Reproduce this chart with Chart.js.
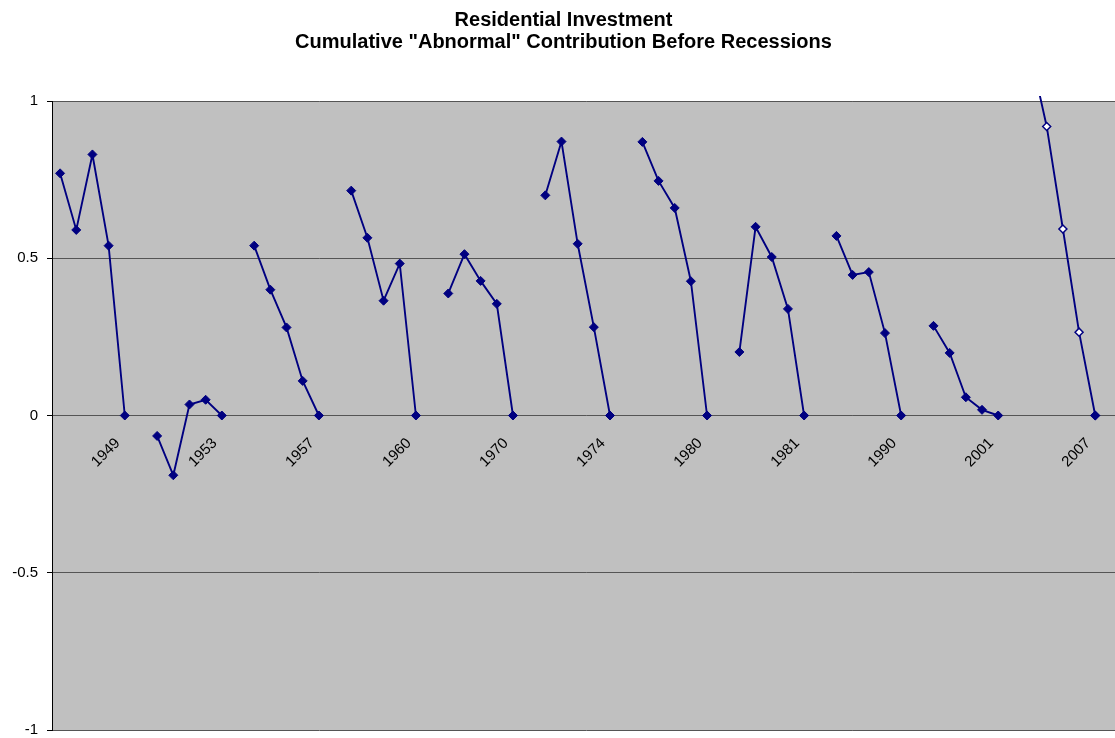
<!DOCTYPE html>
<html lang="en">
<head>
  <meta charset="UTF-8" />
  <title>Residential Investment</title>
  <style>
    html, body { margin: 0; padding: 0; overflow: hidden; background: #fff; }
    canvas { display: block; }
  </style>
</head>
<body>
  <canvas id="myChart" width="1125" height="738"></canvas>
  <script src="https://cdn.jsdelivr.net/npm/chart.js"></script>
  <script>
    // recessions (category labels) and the five quarters before each one
    const recessions = ['1949', '1953', '1957', '1960', '1970', '1974', '1980', '1981', '1990', '2001', '2007'];

    const y1949 = [0.77, 0.59, 0.83, 0.54, 0];
    const y1953 = [-0.065, -0.19, 0.035, 0.05, 0];
    const y1957 = [0.54, 0.40, 0.28, 0.11, 0];
    const y1960 = [0.715, 0.565, 0.365, 0.483, 0];
    const y1970 = [0.388, 0.513, 0.428, 0.355, 0];
    const y1974 = [0.70, 0.871, 0.546, 0.281, 0];
    const y1980 = [0.87, 0.746, 0.66, 0.427, 0];
    const y1981 = [0.202, 0.60, 0.504, 0.339, 0];
    const y1990 = [0.571, 0.447, 0.456, 0.262, 0];
    const y2001 = [0.285, 0.199, 0.058, 0.018, 0];
    const y2007Actual = [null, null, null, null, 0];
    const y2007Projected = [1.15, 0.919, 0.593, 0.265, 0];

    const yTicks = [-1, -0.5, 0, 0.5, 1];

    // flat category table: 5 points per recession, then an empty slot
    const actualGroups = [y1949, y1953, y1957, y1960, y1970, y1974, y1980, y1981, y1990, y2001, y2007Actual];
    const labels = [];
    const actual = [];
    const projected = [];
    actualGroups.forEach((g, i) => {
      g.forEach((v, k) => {
        labels.push(k === 4 ? recessions[i] : '');
        actual.push(v);
        projected.push(i === actualGroups.length - 1 ? y2007Projected[k] : null);
      });
      labels.push('');
      actual.push(null);
      projected.push(null);
    });

    const navy = '#000080';
    const font = 'Liberation Sans, Arial, sans-serif';

    const plotBg = {
      id: 'plotBg',
      beforeDraw(chart) {
        const { ctx, chartArea: a } = chart;
        ctx.save();
        ctx.fillStyle = '#C0C0C0';
        ctx.fillRect(a.left, a.top, a.right - a.left, a.bottom - a.top);
        ctx.restore();
      }
    };

    new Chart(document.getElementById('myChart'), {
      type: 'line',
      plugins: [plotBg],
      data: {
        labels: labels,
        datasets: [
          {
            label: 'Cumulative contribution',
            data: actual,
            borderColor: navy,
            borderWidth: 1.9,
            pointStyle: 'rectRot',
            pointRadius: 4.5,
            pointBackgroundColor: navy,
            pointBorderColor: navy,
            pointBorderWidth: 1,
            spanGaps: false,
            tension: 0
          },
          {
            label: 'Projected',
            data: projected,
            borderColor: navy,
            borderWidth: 1.9,
            pointStyle: 'rectRot',
            pointRadius: 4,
            pointBackgroundColor: '#ffffff',
            pointBorderColor: navy,
            pointBorderWidth: 1.5,
            spanGaps: false,
            tension: 0,
            clip: { left: 0, top: 5, right: 0, bottom: 0 }
          }
        ]
      },
      options: {
        responsive: false,
        animation: false,
        layout: { padding: { left: 2, right: 0, top: 0, bottom: 8 } },
        plugins: {
          legend: { display: false },
          tooltip: { enabled: false },
          title: {
            display: true,
            text: ['Residential Investment', 'Cumulative "Abnormal" Contribution Before Recessions'],
            color: '#000',
            font: { family: font, size: 20, weight: 'bold', lineHeight: 1.1 },
            padding: { top: 9.5, bottom: 47.5 }
          }
        },
        scales: {
          x: {
            type: 'category',
            position: { y: 0 },
            offset: true,
            grid: { display: false, drawTicks: false },
            border: { display: false },
            afterFit(scale) {
              scale.paddingLeft = 0;
              scale.paddingRight = 0;
              scale.paddingTop = 0;
              scale.paddingBottom = 0;
            },
            ticks: {
              autoSkip: false,
              minRotation: 45,
              maxRotation: 45,
              padding: 19,
              labelOffset: -7,
              color: '#000',
              font: { family: font, size: 15 }
            }
          },
          y: {
            min: -1,
            max: 1,
            afterBuildTicks(scale) {
              scale.ticks = yTicks.map(v => ({ value: v }));
            },
            afterFit(scale) {
              scale.width = 50;
              scale.paddingTop = 0;
              scale.paddingBottom = 0;
            },
            grid: {
              color: '#555555',
              lineWidth: 1,
              tickLength: 5,
              tickColor: '#000'
            },
            border: { display: true, color: '#000', width: 1 },
            ticks: {
              padding: 9,
              color: '#000',
              font: { family: font, size: 15 },
              callback: v => String(v)
            }
          }
        }
      }
    });
  </script>
</body>
</html>
